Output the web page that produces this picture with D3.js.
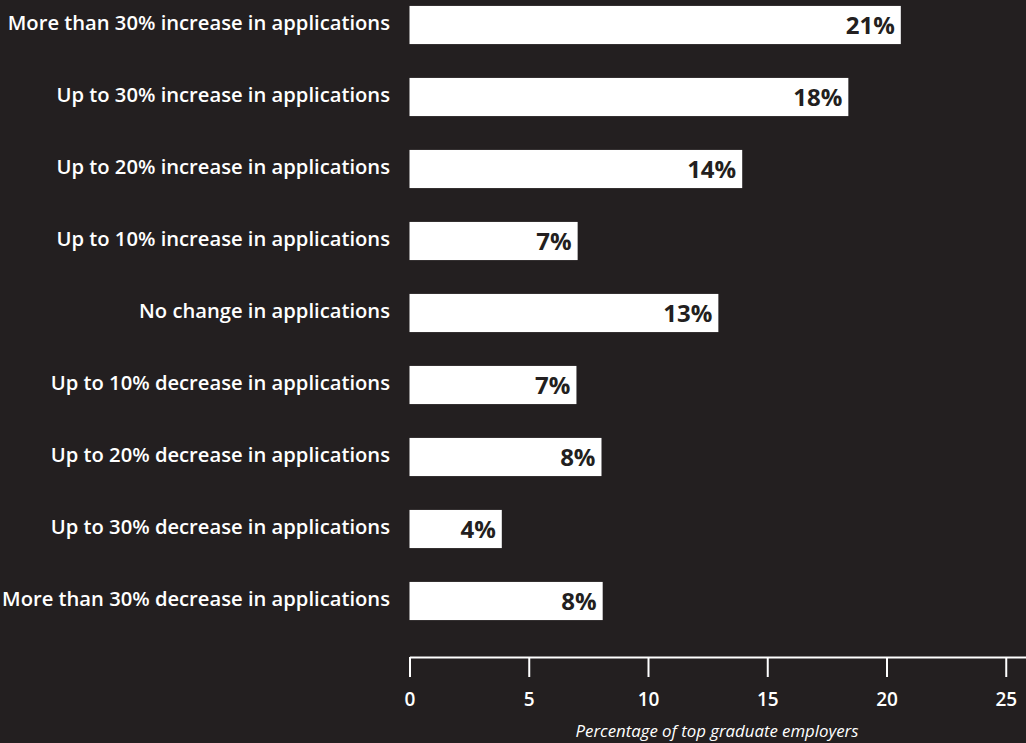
<!DOCTYPE html>
<html>
<head>
<meta charset="utf-8">
<script src="https://cdn.jsdelivr.net/npm/d3@7"></script>
<style>
  body { margin: 0; background: #231f20; }
</style>
</head>
<body>
<script>
const canvWidth = 1026, canvHeight = 743;

const categories = [
    "More than 30% increase in applications",
    "Up to 30% increase in applications",
    "Up to 20% increase in applications",
    "Up to 10% increase in applications",
    "No change in applications",
    "Up to 10% decrease in applications",
    "Up to 20% decrease in applications",
    "Up to 30% decrease in applications",
    "More than 30% decrease in applications"
];
const values = [20.6, 18.4, 13.95, 7.05, 12.95, 7.0, 8.05, 3.87, 8.1];
const valueLabels = ["21%", "18%", "14%", "7%", "13%", "7%", "8%", "4%", "8%"];
const tickValues = [0, 5, 10, 15, 20, 25];
const axisTitle = "Percentage of top graduate employers";

const svg = d3.select("body").append("svg")
    .attr("width", canvWidth)
    .attr("height", canvHeight)
    .style("display", "block");

svg.append("rect")
    .attr("width", canvWidth)
    .attr("height", canvHeight)
    .attr("fill", "#231f20");

const xScale = d3.scaleLinear()
    .domain([0, 26])
    .range([409.5, 409.5 + 26 * 23.85]);

const yScale = d3.scaleBand()
    .domain(categories)
    .range([-11, 637])
    .paddingInner(0.47)
    .paddingOuter(0.235);

const font = "'Open Sans', sans-serif";

const bars = svg.append("g").attr("id", "bars");

bars.selectAll("rect")
    .data(categories)
    .enter().append("rect")
    .attr("x", xScale(0))
    .attr("y", d => yScale(d))
    .attr("width", (d, i) => xScale(values[i]) - xScale(0))
    .attr("height", yScale.bandwidth())
    .attr("fill", "#ffffff");

bars.selectAll("text.value")
    .data(categories)
    .enter().append("text")
    .attr("class", "value")
    .attr("x", (d, i) => xScale(values[i]) - 6)
    .attr("y", d => yScale(d) + yScale.bandwidth() / 2)
    .attr("dy", "0.36em")
    .attr("text-anchor", "end")
    .attr("font-family", font)
    .attr("font-weight", 700)
    .attr("font-size", "24px")
    .attr("fill", "#231f20")
    .text((d, i) => valueLabels[i]);

svg.append("g")
    .attr("id", "labels")
    .selectAll("text")
    .data(categories)
    .enter().append("text")
    .attr("x", 390)
    .attr("y", d => yScale(d) + yScale.bandwidth() / 2)
    .attr("dy", "0.25em")
    .attr("text-anchor", "end")
    .attr("font-family", font)
    .attr("font-weight", 600)
    .attr("font-size", "20.2px")
    .attr("fill", "#ffffff")
    .text(d => d);

const xAxis = d3.axisBottom(xScale)
    .tickValues(tickValues)
    .tickSizeInner(20)
    .tickSizeOuter(0)
    .tickPadding(16);

const axisG = svg.append("g")
    .attr("id", "xAxis")
    .attr("transform", "translate(0,657)")
    .call(xAxis);

axisG.select(".domain")
    .attr("stroke", "#ffffff")
    .attr("stroke-width", 2);
axisG.selectAll(".tick line")
    .attr("stroke", "#ffffff")
    .attr("stroke-width", 2);
axisG.selectAll(".tick text")
    .attr("fill", "#ffffff")
    .attr("font-family", font)
    .attr("font-weight", 600)
    .attr("font-size", "19px");

svg.append("text")
    .attr("x", 717)
    .attr("y", 737)
    .attr("text-anchor", "middle")
    .attr("font-family", font)
    .attr("font-style", "italic")
    .attr("font-size", "16.8px")
    .attr("fill", "#ffffff")
    .text(axisTitle);
</script>
</body>
</html>
